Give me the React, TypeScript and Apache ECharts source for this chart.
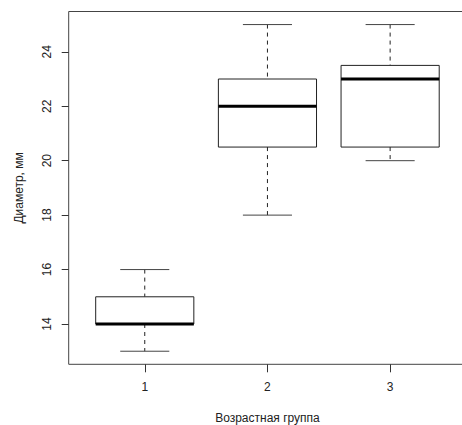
import React, { useEffect, useRef } from "react";
import * as echarts from "echarts";

const groups = ["1", "2", "3"];
const groupPos = [1, 2, 3];
const mins = [13, 18, 20];
const q1s = [14, 20.5, 20.5];
const medians = [14, 22, 23];
const q3s = [15, 23, 23.5];
const maxs = [16, 25, 25];
const yTicks = [14, 16, 18, 20, 22, 24];
const xTitle = "Возрастная группа";
const yTitle = "Диаметр, мм";

export default function App() {
  const ref = useRef<HTMLDivElement>(null);
  useEffect(() => {
    if (!ref.current) return;
    const chart = echarts.init(ref.current, null, { renderer: "svg" });
    const data = groupPos.map((x, i) => [x, mins[i], q1s[i], medians[i], q3s[i], maxs[i]]);
    const font = "'Liberation Sans', Arial, sans-serif";
    const lineColor = "#222";
    chart.setOption({
      animation: false,
      backgroundColor: "#fff",
      grid: {
        left: 68.7,
        top: 11.5,
        width: 397.5,
        height: 352.8,
        show: true,
        borderColor: "#444",
        borderWidth: 1,
        backgroundColor: "transparent",
        containLabel: false,
        outerBoundsMode: "none",
      },
      xAxis: {
        type: "value",
        min: 0.38,
        max: 3.62,
        name: xTitle,
        nameLocation: "middle",
        nameGap: 48,
        nameTextStyle: { fontFamily: font, fontSize: 12, color: "#222" },
        axisLine: { show: false },
        splitLine: { show: false },
        axisTick: { show: true, length: 8, lineStyle: { color: "#333" }, customValues: groupPos },
        axisLabel: {
          fontFamily: font,
          fontSize: 12,
          color: "#222",
          margin: 17,
          customValues: groupPos,
          formatter: (v: number) => groups[Math.round(v) - 1] ?? "",
        },
      },
      yAxis: {
        type: "value",
        min: 12.52,
        max: 25.48,
        name: yTitle,
        nameLocation: "middle",
        nameRotate: 90,
        nameGap: 44,
        nameTextStyle: { fontFamily: font, fontSize: 12, color: "#222" },
        axisLine: { show: false },
        splitLine: { show: false },
        axisTick: { show: true, length: 7, lineStyle: { color: "#333" }, customValues: yTicks },
        axisLabel: {
          fontFamily: font,
          fontSize: 12,
          color: "#222",
          rotate: 90,
          margin: 16,
          customValues: yTicks,
        },
      },
      series: [
        {
          type: "custom",
          data,
          encode: { x: 0, y: [1, 2, 3, 4, 5] },
          clip: false,
          renderItem: (params: any, api: any) => {
            const x = api.value(0);
            const mn = api.value(1);
            const q1 = api.value(2);
            const md = api.value(3);
            const q3 = api.value(4);
            const mx = api.value(5);
            const tl = api.coord([x - 0.4, q3]);
            const br = api.coord([x + 0.4, q1]);
            const cTop = api.coord([x, mx]);
            const cBot = api.coord([x, mn]);
            const capL = api.coord([x - 0.2, mx])[0];
            const capR = api.coord([x + 0.2, mx])[0];
            const medY = api.coord([x, md])[1];
            const cx = cTop[0];
            return {
              type: "group",
              children: [
                {
                  type: "line",
                  shape: { x1: cx, y1: cTop[1], x2: cx, y2: tl[1] },
                  style: { stroke: lineColor, lineWidth: 1, lineDash: [4, 4] },
                },
                {
                  type: "line",
                  shape: { x1: cx, y1: br[1], x2: cx, y2: cBot[1] },
                  style: { stroke: lineColor, lineWidth: 1, lineDash: [4, 4] },
                },
                {
                  type: "line",
                  shape: { x1: capL, y1: cTop[1], x2: capR, y2: cTop[1] },
                  style: { stroke: "#444", lineWidth: 1 },
                },
                {
                  type: "line",
                  shape: { x1: capL, y1: cBot[1], x2: capR, y2: cBot[1] },
                  style: { stroke: "#444", lineWidth: 1 },
                },
                {
                  type: "rect",
                  shape: { x: tl[0], y: tl[1], width: br[0] - tl[0], height: br[1] - tl[1] },
                  style: { fill: "#fff", stroke: lineColor, lineWidth: 1 },
                },
                {
                  type: "line",
                  shape: { x1: tl[0], y1: medY, x2: br[0], y2: medY },
                  style: { stroke: "#000", lineWidth: 3 },
                },
              ],
            };
          },
        },
      ],
    });
    return () => chart.dispose();
  }, []);
  return (
    <div
      ref={ref}
      style={{ position: "fixed", left: 0, top: 0, width: 462, height: 425, background: "#fff" }}
    />
  );
}
